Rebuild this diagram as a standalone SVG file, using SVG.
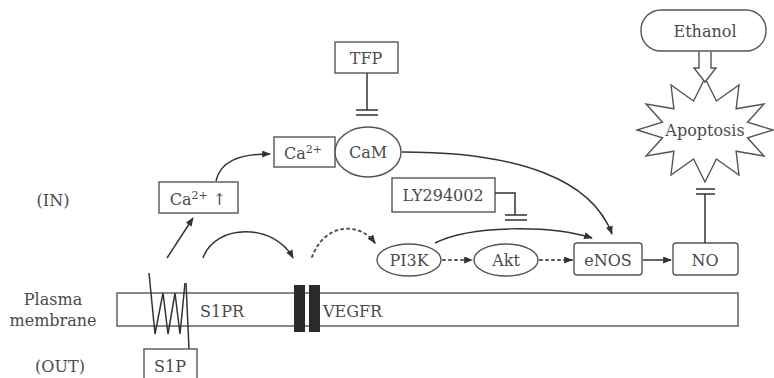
<svg xmlns="http://www.w3.org/2000/svg" width="774" height="378" viewBox="0 0 774 378">
<style>
text{font-family:'DejaVu Serif','Liberation Serif',serif;fill:#4a4a4a;font-size:16px}
.c{text-anchor:middle}
.box{fill:#fff;stroke:#555;stroke-width:1.4}
.ln{fill:none;stroke:#333;stroke-width:1.5}
.dot{fill:none;stroke:#555;stroke-width:2;stroke-dasharray:2 4;stroke-linecap:round}
.bar{fill:#2b2b2b}
</style>
<defs>
<marker id="ah" viewBox="0 0 10 8" refX="9" refY="4" markerWidth="9" markerHeight="7" markerUnits="userSpaceOnUse" orient="auto">
<path d="M0,0 L10,4 L0,8 z" fill="#333"/>
</marker>
</defs>
<rect width="774" height="378" fill="#fff"/>

<g id="labels">
<text x="53" y="206" class="c">(IN)</text>
<text x="53" y="305" class="c">Plasma</text>
<text x="53" y="326" class="c">membrane</text>
<text x="60" y="372" class="c">(OUT)</text>
</g>

<g id="membrane">
<rect x="117" y="293" width="621" height="33" class="box"/>
</g>

<g id="S1PR">
<polyline points="149,273 155,334 163,293 168,334 175,293 180,334 185,283" class="ln"/>
<line x1="186" y1="283" x2="189" y2="349" class="ln"/>
<text x="200" y="317">S1PR</text>
</g>

<g id="VEGFR">
<rect x="294" y="285" width="11" height="47" class="bar"/>
<rect x="309" y="285" width="11" height="47" class="bar"/>
<text x="323" y="317">VEGFR</text>
</g>

<g id="S1P">
<rect x="144" y="349" width="53" height="40" class="box"/>
<text x="170" y="372" class="c">S1P</text>
</g>

<g id="Ca_up">
<rect x="159" y="182" width="79" height="31" class="box"/>
<text x="198" y="205" class="c">Ca<tspan dy="-6" font-size="11">2+</tspan><tspan dy="6"> ↑</tspan></text>
</g>

<g id="Ca">
<rect x="274" y="137" width="61" height="30" class="box"/>
<text x="303" y="159" class="c">Ca<tspan dy="-6" font-size="11">2+</tspan></text>
</g>

<g id="CaM">
<ellipse cx="368" cy="152" rx="33" ry="25" class="box"/>
<text x="368" y="158" class="c">CaM</text>
</g>

<g id="TFP">
<rect x="335" y="42" width="63" height="31" class="box"/>
<text x="366" y="64" class="c">TFP</text>
</g>

<g id="LY294002">
<rect x="392" y="178" width="103" height="34" class="box"/>
<text x="443" y="201" class="c">LY294002</text>
</g>

<g id="PI3K">
<ellipse cx="409" cy="260" rx="32" ry="16" class="box"/>
<text x="409" y="266" class="c">PI3K</text>
</g>

<g id="Akt">
<ellipse cx="506" cy="260" rx="32" ry="16" class="box"/>
<text x="506" y="266" class="c">Akt</text>
</g>

<g id="eNOS">
<rect x="574" y="243" width="68" height="32" rx="3" class="box"/>
<text x="608" y="266" class="c">eNOS</text>
</g>

<g id="NO">
<rect x="673" y="243" width="65" height="32" rx="3" class="box"/>
<text x="705" y="266" class="c">NO</text>
</g>

<g id="Ethanol">
<rect x="641" y="10" width="125" height="41" rx="20" class="box"/>
<text x="705" y="37" class="c">Ethanol</text>
</g>

<g id="Apoptosis">
<polygon points="773,130 747.5,137.8 763.9,156 736.1,151.2 739,175 716.4,159 705,182 693.6,159 671,175 673.9,151.2 646.1,156 662.5,137.8 637,130 662.5,122.2 646.1,104 673.9,108.8 671,85 693.6,101 705,78 716.4,101 739,85 736.1,108.8 763.9,104 747.5,122.2" class="box"/>
<text x="705" y="136" class="c">Apoptosis</text>
</g>

<g id="connectors">
<path d="M167,258 L193,218" class="ln" marker-end="url(#ah)"/>
<path d="M216,181 C220,162 238,154 270,154" class="ln" marker-end="url(#ah)"/>
<path d="M203,258 C215,223 275,223 293,258" class="ln" marker-end="url(#ah)"/>
<path d="M312,257 C325,222 360,222 375,243" class="dot" marker-end="url(#ah)"/>
<path d="M402,152 C520,152 592,180 612,234" class="ln" marker-end="url(#ah)"/>
<path d="M435,243 C470,225 550,225 592,238" class="ln" marker-end="url(#ah)"/>
<path d="M443,260 L472,260" class="dot" marker-end="url(#ah)"/>
<path d="M540,260 L572,260" class="dot" marker-end="url(#ah)"/>
<path d="M643,260 L671,260" class="ln" marker-end="url(#ah)"/>
<path d="M367,73 V110" class="ln"/>
<path d="M356,110 H378 M356,115 H378" class="ln"/>
<path d="M495,193 H515 V215" class="ln"/>
<path d="M505,215 H527 M505,220 H527" class="ln"/>
<path d="M705,243 V194" class="ln"/>
<path d="M696,189 H715 M696,194 H715" class="ln"/>
<path d="M699,52 V68 H694 L705,82 L716,68 H711 V52" fill="#fff" stroke="#555" stroke-width="1.4"/>
</g>
</svg>
